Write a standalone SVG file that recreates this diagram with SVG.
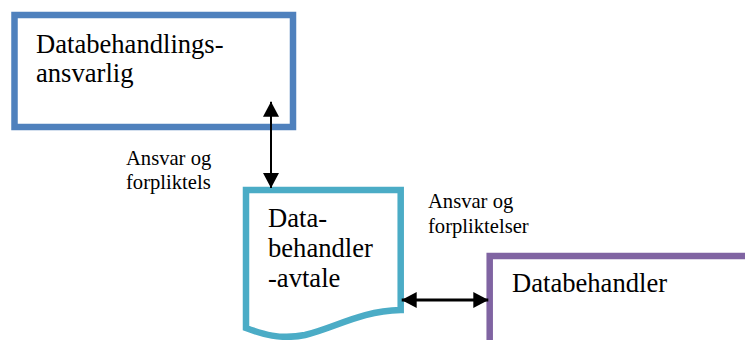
<svg xmlns="http://www.w3.org/2000/svg" width="745" height="340" viewBox="0 0 745 340">
<style>
.node{fill:#fff;stroke-width:6.5}
.t{font-family:"Liberation Serif","Times New Roman",serif;font-size:26.6px;fill:#000}
.lbl{font-family:"Liberation Serif","Times New Roman",serif;font-size:20.6px;fill:#000}
.conn{stroke:#000;fill:none}
</style>
<defs>
<marker id="ah" viewBox="0 0 15 16" refX="15" refY="8" markerWidth="15" markerHeight="16" markerUnits="userSpaceOnUse" orient="auto-start-reverse">
<path d="M0,0 L15,8 L0,16 Z" fill="#000"/>
</marker>
</defs>
<rect width="745" height="340" fill="#fff"/>
<g id="node-ansvarlig">
<rect class="node" x="14.5" y="15" width="278.5" height="112" stroke="#4f81bd"/>
<text class="t" x="36" y="53">Databehandlings-</text>
<text class="t" x="36" y="82">ansvarlig</text>
</g>
<g id="node-avtale">
<path class="node" stroke="#4bacc6" d="M246,190 H400.7 V310 C360,311 335,328 305,335 C280,340 262,334 246,328 Z"/>
<text class="t" x="268" y="227">Data-</text>
<text class="t" x="268" y="257">behandler</text>
<text class="t" x="268" y="287">-avtale</text>
</g>
<g id="node-databehandler">
<rect class="node" x="489.7" y="256" width="300" height="150" stroke="#8064a2"/>
<text class="t" x="512" y="292">Databehandler</text>
</g>
<g id="connectors">
<line class="conn" x1="271" y1="101.7" x2="271" y2="188" stroke-width="2" marker-start="url(#ah)" marker-end="url(#ah)"/>
<line class="conn" x1="401.7" y1="300" x2="488.3" y2="300" stroke-width="3" marker-start="url(#ah)" marker-end="url(#ah)"/>
<text class="lbl" x="126" y="165">Ansvar og</text>
<text class="lbl" x="126" y="189">forpliktels</text>
<text class="lbl" x="428" y="208">Ansvar og</text>
<text class="lbl" x="428" y="233">forpliktelser</text>
</g>
</svg>
